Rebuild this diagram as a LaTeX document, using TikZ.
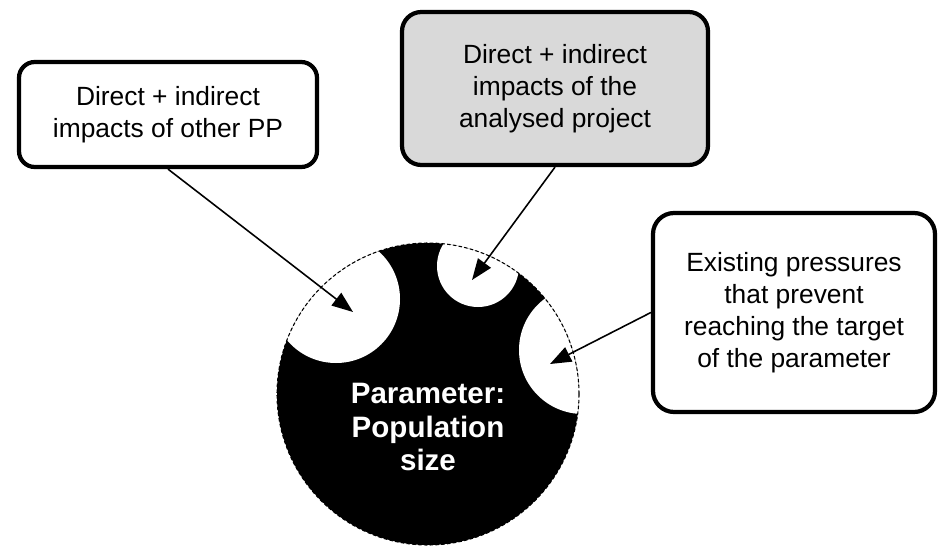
\documentclass[tikz,border=0pt]{standalone}
\usepackage{fontspec}
\setmainfont{Liberation Sans}
\usetikzlibrary{arrows.meta,positioning}

\tikzset{
  impactbox/.style={draw, line width=2.4pt, rounded corners=11pt, align=center,
    inner sep=0pt, font=\fontsize{15}{18.2}\selectfont},
  pointer/.style={-{Triangle[length=12pt,width=9pt]}, line width=0.9pt}
}

\begin{document}
\begin{tikzpicture}
	\useasboundingbox (0,0) rectangle (18.76,10.9);
	% parameter disc, three white bites cut out of it
	\fill (8.56,3.02) circle (3.02);
	\begin{scope}
		\clip (8.56,3.02) circle (3.02);
		\foreach \x/\y/\r in {6.72/4.92/1.28, 9.56/5.58/0.82, 11.66/3.90/1.28}
		\fill[white] (\x,\y) circle (\r);
	\end{scope}
	\draw[dash pattern=on 2pt off 1.3pt, line width=0.6pt] (8.56,3.02) circle (3.02);
	\node[text=white, align=center, font=\fontsize{16.8}{19}\selectfont\bfseries] (param) at (8.56,2.36) {Parameter:\\Population\\size};
	% impact boxes
	\node[impactbox, rounded corners=9pt, minimum width=5.96cm, minimum height=2.1cm] (otherpp) at (3.36,8.61) {Direct + indirect\\impacts of other PP};
	\node[impactbox, fill=black!15, minimum width=6.12cm, minimum height=3.06cm] (project) at (11.1,9.13) {Direct + indirect\\impacts of the\\analysed project};
	\node[impactbox, rounded corners=12pt, minimum width=5.64cm, minimum height=3.98cm] (pressures) at (15.88,4.65) {Existing pressures\\that prevent\\reaching the target\\of the parameter};
	% arrows into the bites
	\coordinate (hitA) at (7.06,4.66);
	\coordinate (hitB) at (9.44,5.30);
	\coordinate (hitC) at (11.0,3.62);
	\draw[pointer] (otherpp.south) -- (hitA);
	\draw[pointer] (project.south) -- (hitB);
	\draw[pointer] (pressures.west) -- (hitC);
	%	\draw[pointer] (pressures.south west) -- (param);
\end{tikzpicture}
\end{document}
